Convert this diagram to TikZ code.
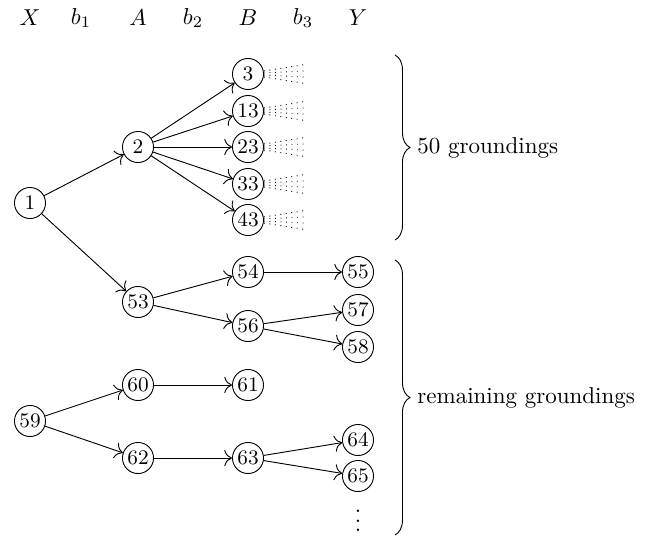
\documentclass[tikz,border=0pt]{standalone}
\usetikzlibrary{decorations.pathreplacing, arrows.meta}

\tikzset{
  gnode/.style={draw, circle, minimum size=13.5pt, inner sep=0.3pt, font=\small},
  head/.style={inner sep=0pt},
  edge/.style={-{To[scale=1.35]}},
  fan/.style={dotted},
  grp/.style={decorate, decoration={brace, amplitude=6.5pt}},
  grplabel/.style={anchor=west, inner sep=3pt}
}

\begin{document}
\begin{tikzpicture}[x=0.4348pt, y=-0.4348pt]
  \useasboundingbox (0,0) rectangle (646,535);

  % column headings
  \node[head] (hX)  at (30,18)  {$X$};
  \node[head] (hb1) at (81,18)  {$b_1$};
  \node[head] (hA)  at (138,18) {$A$};
  \node[head] (hb2) at (193,18) {$b_2$};
  \node[head] (hB)  at (248,18) {$B$};
  \node[head] (hb3) at (303,18) {$b_3$};
  \node[head] (hY)  at (358,18) {$Y$};

  % first grounding tree
  \node[gnode] (n1)  at (30,203)  {1};
  \node[gnode] (n2)  at (138,147) {2};
  \node[gnode] (n3)  at (248,74)  {3};
  \node[gnode] (n13) at (248,111) {13};
  \node[gnode] (n23) at (248,147) {23};
  \node[gnode] (n33) at (248,184) {33};
  \node[gnode] (n43) at (248,220) {43};
  \node[gnode] (n53) at (138,302) {53};
  \node[gnode] (n54) at (248,272) {54};
  \node[gnode] (n55) at (358,272) {55};
  \node[gnode] (n56) at (248,326) {56};
  \node[gnode] (n57) at (358,310) {57};
  \node[gnode] (n58) at (358,347) {58};

  % second grounding tree
  \node[gnode] (n59) at (30,421)  {59};
  \node[gnode] (n60) at (138,385) {60};
  \node[gnode] (n61) at (248,385) {61};
  \node[gnode] (n62) at (138,458) {62};
  \node[gnode] (n63) at (248,458) {63};
  \node[gnode] (n64) at (358,440) {64};
  \node[gnode] (n65) at (358,476) {65};
  \node[head]  (more) at (358,514) {$\vdots$};

  % edges
  \draw[edge] (n1) -- (n2);
  \draw[edge] (n1) -- (n53);
  \foreach \t in {n3,n13,n23,n33,n43} \draw[edge] (n2) -- (\t);
  \draw[edge] (n53) -- (n54);
  \draw[edge] (n53) -- (n56);
  \draw[edge] (n54) -- (n55);
  \draw[edge] (n56) -- (n57);
  \draw[edge] (n56) -- (n58);
  \draw[edge] (n59) -- (n60);
  \draw[edge] (n59) -- (n62);
  \draw[edge] (n60) -- (n61);
  \draw[edge] (n62) -- (n63);
  \draw[edge] (n63) -- (n64);
  \draw[edge] (n63) -- (n65);

  % omitted continuations
  \foreach \t in {n3,n13,n23,n33,n43}
    \foreach \d in {-3,-1,1,3}
      \draw[fan] (\t.east) ++(0,\d) -- ++(42,2.2*\d);

  % grouping braces
  \coordinate (b1top) at (395,55);
  \coordinate (b1bot) at (395,240);
  \coordinate (b2top) at (395,260);
  \coordinate (b2bot) at (395,535);
  \draw[grp] (b1top) -- (b1bot);
  \draw[grp] (b2top) -- (b2bot);
  \node[grplabel] (g1) at (410,147.5) {50 groundings};
  \node[grplabel] (g2) at (410,397.5) {remaining groundings};
\end{tikzpicture}
\end{document}
